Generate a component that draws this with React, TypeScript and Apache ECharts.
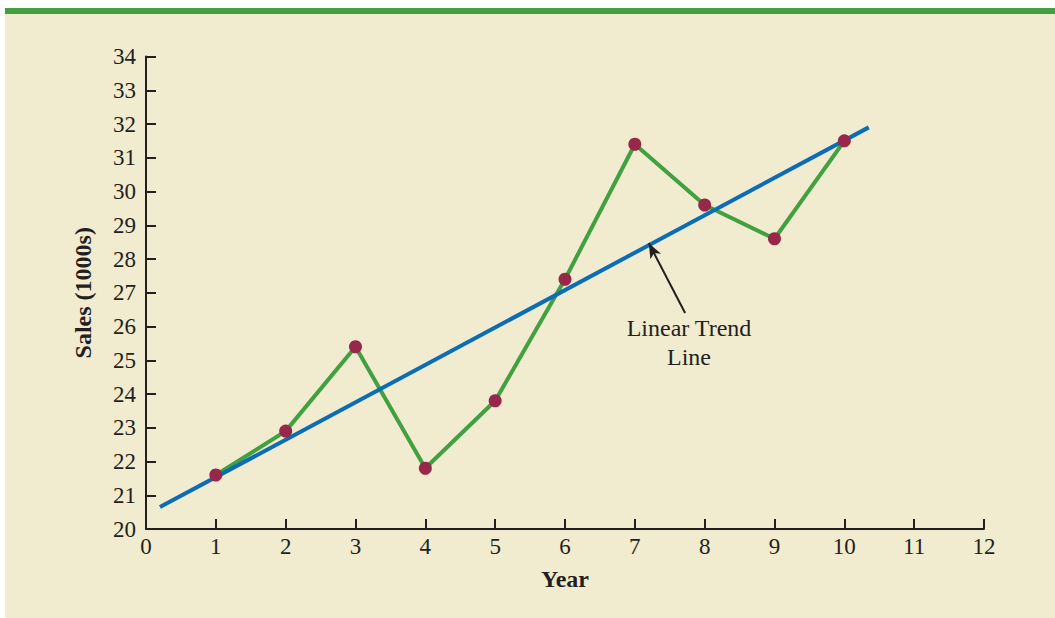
import React, { useEffect, useRef } from "react";
import * as echarts from "echarts";

// Yearly sales (in thousands)
const years = [1, 2, 3, 4, 5, 6, 7, 8, 9, 10];
const sales = [21.6, 22.9, 25.4, 21.8, 23.8, 27.4, 31.4, 29.6, 28.6, 31.5];

// Linear trend line end points [year, sales]
const trendStart = [0.2, 20.65];
const trendEnd = [10.35, 31.9];

// Annotation arrow: from label to the trend line
const arrowTail = [7.72, 26.4];
const arrowTip = [7.2, 28.47];

const xTicks = [0, 12];
const yTicks = [20, 34];

const INK = "#231F20";
const SERIF = '"Liberation Serif", "Times New Roman", serif';

export default function App() {
  const ref = useRef<HTMLDivElement>(null);

  useEffect(() => {
    if (!ref.current) return;
    const chart = echarts.init(ref.current, null, { renderer: "svg" });
    const points = years.map((y, i) => [y, sales[i]]);

    chart.setOption({
      animation: false,
      backgroundColor: "#ffffff",
      textStyle: { fontFamily: SERIF },
      grid: { left: 146, right: 71, top: 56.5, bottom: 89, containLabel: false },
      graphic: [
        {
          type: "rect",
          z: -10,
          silent: true,
          shape: { x: 5, y: 14, width: 1050, height: 604 },
          style: { fill: "#F1EBCF" },
        },
        {
          type: "rect",
          z: -10,
          silent: true,
          shape: { x: 5, y: 8, width: 1050, height: 6 },
          style: { fill: "#41A03F" },
        },
        {
          type: "text",
          x: 689,
          y: 313,
          z: 10,
          style: {
            text: "Linear Trend\nLine",
            textAlign: "center",
            textVerticalAlign: "top",
            font: `24px ${SERIF}`,
            lineHeight: 29,
            fill: INK,
          },
        },
      ],
      xAxis: {
        type: "value",
        min: xTicks[0],
        max: xTicks[1],
        interval: 1,
        name: "Year",
        nameLocation: "middle",
        nameGap: 38,
        nameTextStyle: { fontFamily: SERIF, fontWeight: "bold", fontSize: 24, color: INK },
        axisLine: { show: true, onZero: false, lineStyle: { color: INK, width: 2 } },
        axisTick: { show: true, inside: true, length: 10, lineStyle: { color: INK, width: 2 } },
        axisLabel: { fontFamily: SERIF, fontSize: 23, color: INK, margin: 6 },
        splitLine: { show: false },
      },
      yAxis: {
        type: "value",
        min: yTicks[0],
        max: yTicks[1],
        interval: 1,
        name: "Sales (1000s)",
        nameLocation: "middle",
        nameGap: 51,
        nameTextStyle: { fontFamily: SERIF, fontWeight: "bold", fontSize: 24, color: INK },
        axisLine: { show: true, onZero: false, lineStyle: { color: INK, width: 2 } },
        axisTick: { show: true, inside: true, length: 10, lineStyle: { color: INK, width: 2 } },
        axisLabel: { fontFamily: SERIF, fontSize: 23, color: INK, margin: 10 },
        splitLine: { show: false },
      },
      series: [
        {
          name: "Sales",
          type: "line",
          data: points,
          showSymbol: false,
          symbol: "none",
          lineStyle: { color: "#41A03F", width: 4 },
          z: 2,
        },
        {
          name: "Trend",
          type: "line",
          data: [trendStart, trendEnd],
          showSymbol: false,
          symbol: "none",
          lineStyle: { color: "#0B6DB7", width: 4 },
          z: 3,
          markLine: {
            silent: true,
            symbol: ["none", "arrow"],
            symbolSize: [9, 15],
            label: { show: false },
            lineStyle: { color: INK, width: 2, type: "solid" },
            data: [[{ coord: arrowTail }, { coord: arrowTip }]],
          },
        },
        {
          name: "Points",
          type: "scatter",
          data: points,
          symbol: "circle",
          symbolSize: 13,
          itemStyle: { color: "#97274B", opacity: 1 },
          z: 4,
        },
      ],
    });

    return () => chart.dispose();
  }, []);

  return (
    <div
      ref={ref}
      style={{ position: "absolute", left: 0, top: 0, width: 1055, height: 618 }}
    />
  );
}
